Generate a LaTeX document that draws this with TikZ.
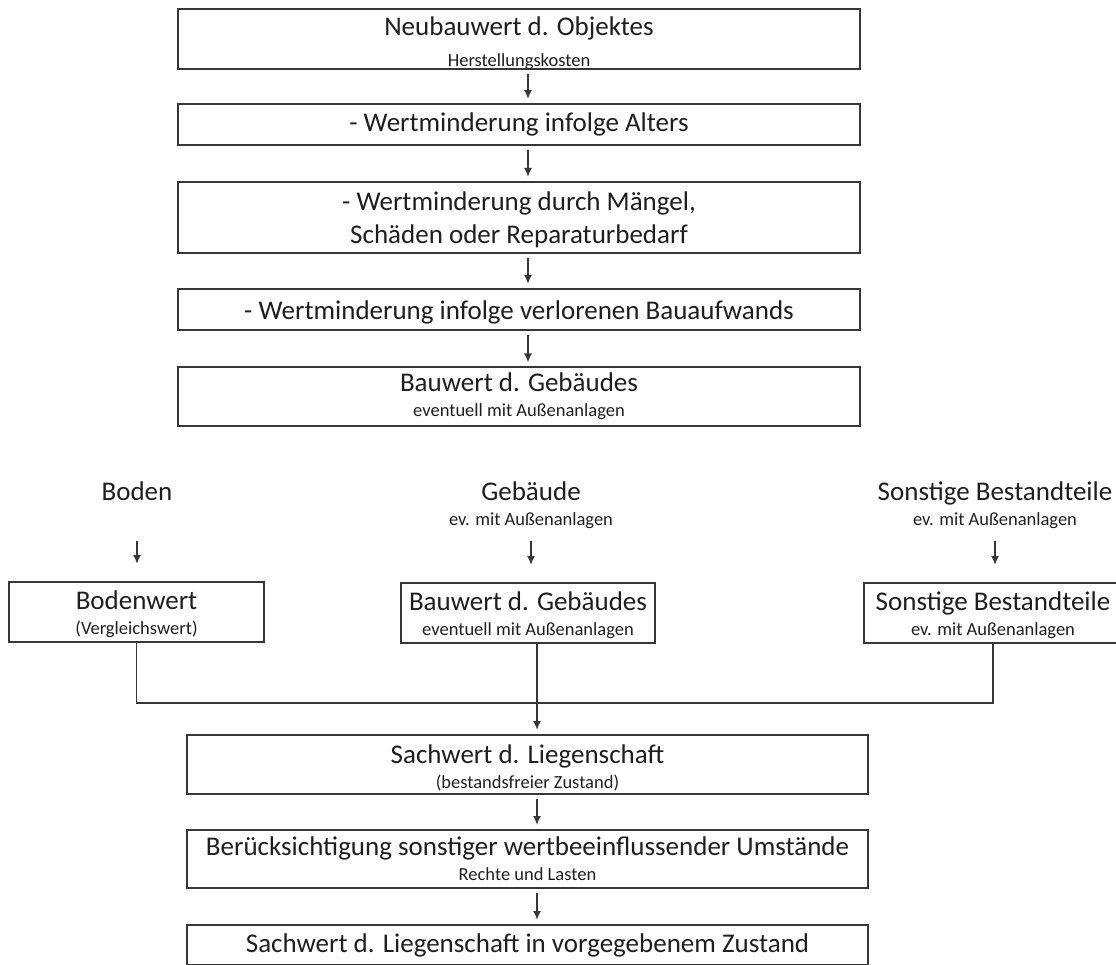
\documentclass[tikz,border=0pt]{standalone}
\usepackage{fontspec}
\setmainfont{Carlito}
\usetikzlibrary{arrows.meta}

\definecolor{txtgray}{RGB}{30,30,30}
\definecolor{linegray}{RGB}{55,55,55}
\newcommand{\subtxt}{\fontsize{18.5}{25}\selectfont}

\tikzset{
  flowbox/.style={draw=linegray, line width=2pt, align=center, inner sep=0pt,
    text=txtgray, minimum width=682pt},
  toplabel/.style={anchor=north, align=center, inner sep=0pt, text=txtgray},
  arr/.style={draw=linegray, line width=1.7pt, -{Latex[length=9pt,width=8pt]}},
  joinline/.style={draw=linegray, line width=1.7pt}
}

\begin{document}
\begin{tikzpicture}[x=1pt, y=-1pt, font=\fontsize{27}{25}\selectfont]
    \useasboundingbox (0,0) rectangle (1116,965);

    % upper chain: Bauwert
    \node[flowbox, minimum height=60pt, inner ysep=-3pt] (neu) at (519,39) {\rule{0pt}{28pt}Neubauwert d. Objektes\\[6pt]{\subtxt Herstellungskosten}};
    \node[flowbox, minimum height=41pt] (alter) at (519,124.5) {- Wertminderung infolge Alters};
    \node[flowbox, minimum height=71pt] (maengel) at (519,217.5) {\rule{0pt}{24pt}- Wertminderung durch Mängel,\\[8pt]Schäden oder Reparaturbedarf};
    \node[flowbox, minimum height=41pt] (bauaufw) at (519,309.5) {\rule{0pt}{24pt}- Wertminderung infolge verlorenen Bauaufwands};
    \node[flowbox, minimum height=58pt] (bauwert) at (519,396.5) {Bauwert d. Gebäudes\\{\subtxt eventuell mit Außenanlagen}};

    \foreach \a/\b in {neu/alter, alter/maengel, maengel/bauaufw, bauaufw/bauwert}
      \draw[arr, shorten <=4pt, shorten >=4pt] ([xshift=9pt]\a.south) -- ([xshift=9pt]\b.north);

    % components
    \node[toplabel] (boden) at (137,482) {Boden\\{\subtxt\vphantom{g}}};
    \node[toplabel] (geb) at (531,482) {Gebäude\\{\subtxt ev. mit Außenanlagen}};
    \node[toplabel] (sonst) at (995,482) {Sonstige Bestandteile\\{\subtxt ev. mit Außenanlagen}};

    \node[flowbox, minimum width=255pt, minimum height=60pt] (bodenwert) at (136.5,612) {\rule{0pt}{23pt}Bodenwert\\{\subtxt (Vergleichswert)}};
    \node[flowbox, minimum width=254pt, minimum height=60pt] (gebwert) at (528,613) {\rule{0pt}{23pt}Bauwert d. Gebäudes\\{\subtxt eventuell mit Außenanlagen}};
    \node[flowbox, minimum width=258pt, minimum height=60pt] (sonstwert) at (993,613) {\rule{0pt}{23pt}Sonstige Bestandteile\\{\subtxt ev. mit Außenanlagen}};

    \draw[arr, shorten <=12pt, shorten >=17pt] (boden.south) -- (boden.south |- bodenwert.north);
    \draw[arr, shorten <=12pt, shorten >=17pt] (geb.south) -- (geb.south |- gebwert.north);
    \draw[arr, shorten <=12pt, shorten >=17pt] (sonst.south) -- (sonst.south |- sonstwert.north);

    % lower chain: Sachwert
    \node[flowbox, minimum width=681pt, minimum height=59pt] (sachwert) at (527.5,764.5) {\rule{0pt}{25pt}Sachwert d. Liegenschaft\\{\subtxt (bestandsfreier Zustand)}};
    \node[flowbox, minimum width=681pt, minimum height=58pt] (beruecks) at (527.5,859) {Berücksichtigung sonstiger wertbeeinflussender Umstände\\{\subtxt Rechte und Lasten}};
    \node[flowbox, minimum width=681pt, minimum height=40pt] (endwert) at (527.5,945) {Sachwert d. Liegenschaft in vorgegebenem Zustand};

    \coordinate (joinL) at ([yshift=-60pt]bodenwert.south);
    \draw[joinline] (bodenwert.south) -- (joinL) -| (sonstwert.south);
    \draw[arr, shorten >=4pt] ([xshift=9pt]gebwert.south) -- ([xshift=9.5pt]sachwert.north);
    \draw[arr, shorten <=4pt, shorten >=4pt] ([xshift=9.5pt]sachwert.south) -- ([xshift=9.5pt]beruecks.north);
    \draw[arr, shorten <=4pt, shorten >=4pt] ([xshift=9.5pt]beruecks.south) -- ([xshift=9.5pt]endwert.north);
\end{tikzpicture}
\end{document}
